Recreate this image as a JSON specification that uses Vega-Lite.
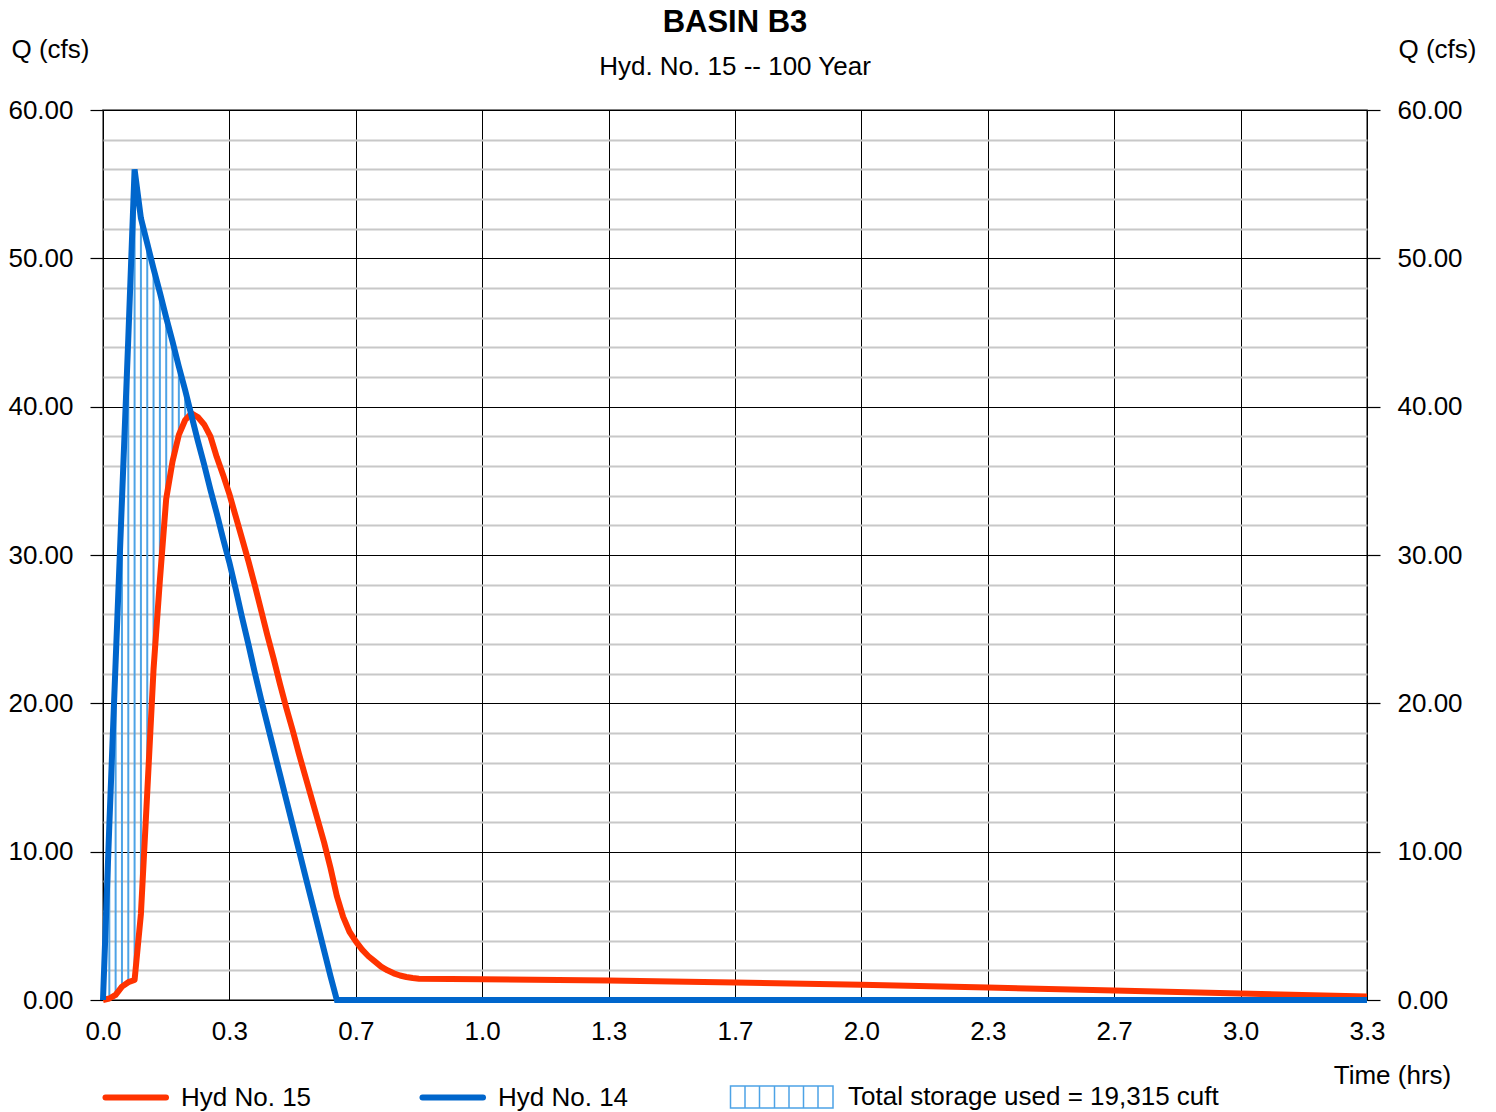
{
  "$schema": "https://vega.github.io/schema/vega-lite/v6.json",
  "width": 1264,
  "height": 890,
  "autosize": {"type": "none"},
  "padding": {"left": 103, "top": 110, "right": 129, "bottom": 112},
  "background": "white",
  "config": {
    "font": "Liberation Sans",
    "view": {"stroke": "#555555", "strokeWidth": 1.5}
  },
  "title": {
    "text": "BASIN B3",
    "subtitle": "Hyd. No. 15 -- 100 Year",
    "anchor": "middle",
    "frame": "group",
    "font": "Liberation Sans",
    "fontSize": 31,
    "fontWeight": "bold",
    "color": "#000000",
    "subtitleFont": "Liberation Sans",
    "subtitleFontSize": 26,
    "subtitleColor": "#000000",
    "offset": -45,
    "subtitlePadding": 15
  },
  "data": {
    "values": [
      {"t": 0, "h15": 0, "h14": 0},
      {"t": 0.0167, "h15": 0.1, "h14": 11.8},
      {"t": 0.0333, "h15": 0.35, "h14": 22.8},
      {"t": 0.05, "h15": 0.9, "h14": 33.7},
      {"t": 0.0667, "h15": 1.2, "h14": 44.6},
      {"t": 0.0833, "h15": 1.35, "h14": 56.0},
      {"t": 0.1, "h15": 5.8, "h14": 52.7},
      {"t": 0.1167, "h15": 14.0, "h14": 51.0},
      {"t": 0.1333, "h15": 22.3, "h14": 49.3},
      {"t": 0.15, "h15": 28.3, "h14": 47.7},
      {"t": 0.1667, "h15": 33.8, "h14": 46.0},
      {"t": 0.1833, "h15": 36.3, "h14": 44.4},
      {"t": 0.2, "h15": 38.1, "h14": 42.7},
      {"t": 0.2167, "h15": 39.1, "h14": 41.1},
      {"t": 0.2333, "h15": 39.55, "h14": 39.4},
      {"t": 0.25, "h15": 39.3, "h14": 37.7},
      {"t": 0.2667, "h15": 38.8, "h14": 36.1},
      {"t": 0.2833, "h15": 38.0, "h14": 34.4},
      {"t": 0.3, "h15": 36.6, "h14": 32.8},
      {"t": 0.3167, "h15": 35.4, "h14": 31.1},
      {"t": 0.3333, "h15": 34.1, "h14": 29.5},
      {"t": 0.35, "h15": 32.6, "h14": 27.7},
      {"t": 0.3667, "h15": 31.1, "h14": 25.8},
      {"t": 0.3833, "h15": 29.6, "h14": 24.0},
      {"t": 0.4, "h15": 28.0, "h14": 22.1},
      {"t": 0.4167, "h15": 26.3, "h14": 20.3},
      {"t": 0.4333, "h15": 24.6, "h14": 18.6},
      {"t": 0.45, "h15": 23.0, "h14": 16.9},
      {"t": 0.4667, "h15": 21.3, "h14": 15.2},
      {"t": 0.4833, "h15": 19.7, "h14": 13.5},
      {"t": 0.5, "h15": 18.2, "h14": 11.8},
      {"t": 0.5167, "h15": 16.6, "h14": 10.1},
      {"t": 0.5333, "h15": 15.1, "h14": 8.4},
      {"t": 0.55, "h15": 13.6, "h14": 6.7},
      {"t": 0.5667, "h15": 12.1, "h14": 5.0},
      {"t": 0.5833, "h15": 10.6, "h14": 3.3},
      {"t": 0.6, "h15": 8.9, "h14": 1.6},
      {"t": 0.6167, "h15": 7.0, "h14": 0},
      {"t": 0.6333, "h15": 5.6, "h14": 0},
      {"t": 0.65, "h15": 4.6, "h14": 0},
      {"t": 0.6667, "h15": 3.95, "h14": 0},
      {"t": 0.6833, "h15": 3.4, "h14": 0},
      {"t": 0.7, "h15": 2.95, "h14": 0},
      {"t": 0.7167, "h15": 2.6, "h14": 0},
      {"t": 0.7333, "h15": 2.25, "h14": 0},
      {"t": 0.75, "h15": 2.0, "h14": 0},
      {"t": 0.7667, "h15": 1.8, "h14": 0},
      {"t": 0.7833, "h15": 1.65, "h14": 0},
      {"t": 0.8, "h15": 1.55, "h14": 0},
      {"t": 0.8167, "h15": 1.48, "h14": 0},
      {"t": 0.8333, "h15": 1.44, "h14": 0},
      {"t": 1.0, "h15": 1.40, "h14": 0},
      {"t": 1.3333, "h15": 1.32, "h14": 0},
      {"t": 1.6667, "h15": 1.18, "h14": 0},
      {"t": 2.0, "h15": 1.02, "h14": 0},
      {"t": 2.3333, "h15": 0.84, "h14": 0},
      {"t": 2.6667, "h15": 0.64, "h14": 0},
      {"t": 3.0, "h15": 0.44, "h14": 0},
      {"t": 3.3333, "h15": 0.24, "h14": 0}
    ]
  },
  "layer": [
    {
      "transform": [{"filter": "datum.h14 > datum.h15"}],
      "mark": {"type": "rule", "strokeWidth": 2},
      "encoding": {
        "x": {
          "field": "t", "type": "quantitative", "title": "Time (hrs)",
          "scale": {"domain": [0, 3.33333], "nice": false, "zero": false},
          "axis": {
            "values": [0, 0.33333, 0.66667, 1, 1.33333, 1.66667, 2, 2.33333, 2.66667, 3, 3.33333],
            "format": ".1f",
            "grid": true, "gridColor": "#000000", "gridWidth": 1,
            "ticks": false, "domain": false,
            "labelFlush": false, "labelOverlap": false,
            "labelFont": "Liberation Sans", "labelFontSize": 26, "labelColor": "#000000",
            "labelPadding": 18,
            "titleFont": "Liberation Sans", "titleFontSize": 26, "titleFontWeight": "normal", "titleColor": "#000000",
            "titleAlign": "center", "titleBaseline": "alphabetic",
            "titleX": 1289, "titleY": 83
          }
        },
        "y": {
          "field": "h15", "type": "quantitative", "title": "Q (cfs)",
          "scale": {"domain": [0, 60], "nice": false},
          "axis": {
            "orient": "left",
            "values": [0, 2, 4, 6, 8, 10, 12, 14, 16, 18, 20, 22, 24, 26, 28, 30, 32, 34, 36, 38, 40, 42, 44, 46, 48, 50, 52, 54, 56, 58, 60],
            "labelExpr": "datum.value % 10 === 0 ? format(datum.value, '.2f') : ''",
            "labelOverlap": false,
            "grid": true,
            "gridColor": {"condition": {"test": "datum.value % 10 === 0", "value": "#000000"}, "value": "#c8c8c8"},
            "gridWidth": {"condition": {"test": "datum.value % 10 === 0", "value": 1.2}, "value": 2},
            "ticks": true, "tickSize": 13, "tickWidth": 1.2,
            "tickColor": {"condition": {"test": "datum.value % 10 === 0", "value": "#000000"}, "value": "transparent"},
            "domain": false,
            "labelFont": "Liberation Sans", "labelFontSize": 26, "labelColor": "#000000",
            "labelPadding": 17,
            "titleFont": "Liberation Sans", "titleFontSize": 26, "titleFontWeight": "normal", "titleColor": "#000000",
            "titleAngle": 0, "titleAlign": "center", "titleBaseline": "alphabetic",
            "titleX": -53, "titleY": -53
          }
        },
        "y2": {"field": "h14"},
        "color": {
          "datum": "Total storage used = 19,315 cuft",
          "type": "nominal",
          "scale": {
            "domain": ["Hyd No. 15", "Hyd No. 14", "Total storage used = 19,315 cuft"],
            "range": ["#ff3300", "#0066cc", "#4da3e6"]
          },
          "legend": {
            "orient": "none",
            "legendX": 0,
            "legendY": 974,
            "direction": "horizontal",
            "title": null,
            "padding": 0,
            "symbolType": "stroke",
            "symbolSize": 10000,
            "symbolStrokeWidth": 1.5,
            "labelFont": "Liberation Sans",
            "labelFontSize": 26,
            "labelColor": "#000000",
            "labelLimit": 600,
            "labelOffset": 16,
            "columnPadding": 98,
            "encode": {
              "symbols": {
                "update": {
                  "shape": {"signal": "datum.value === 'Total storage used = 19,315 cuft' ? 'M-0.25,-0.22H1.8V0.22H-0.25Z M0.04,-0.22V0.22 M0.33,-0.22V0.22 M0.63,-0.22V0.22 M0.92,-0.22V0.22 M1.21,-0.22V0.22 M1.5,-0.22V0.22' : 'M-0.21,0H1.0'"},
                  "strokeWidth": {"signal": "datum.value === 'Total storage used = 19,315 cuft' ? 1.5 : 6"},
                  "strokeCap": {"value": "round"},
                  "fill": {"value": "transparent"}
                }
              },
              "labels": {
                "update": {
                  "dx": {"signal": "datum.value === 'Total storage used = 19,315 cuft' ? 76 : 36"}
                }
              }
            }
          }
        }
      }
    },
    {
      "mark": {"type": "line", "strokeWidth": 6, "strokeJoin": "round"},
      "encoding": {
        "x": {"field": "t", "type": "quantitative", "title": "Time (hrs)", "scale": {"domain": [0, 3.33333], "nice": false, "zero": false}},
        "y": {
          "field": "h15", "type": "quantitative", "title": "Q (cfs)",
          "scale": {"domain": [0, 60], "nice": false},
          "axis": {
            "orient": "right",
            "values": [0, 10, 20, 30, 40, 50, 60],
            "format": ".2f",
            "grid": false,
            "ticks": true, "tickSize": 13, "tickWidth": 1.2, "tickColor": "#000000",
            "domain": false,
            "labelFont": "Liberation Sans", "labelFontSize": 26, "labelColor": "#000000",
            "labelPadding": 17,
            "titleFont": "Liberation Sans", "titleFontSize": 26, "titleFontWeight": "normal", "titleColor": "#000000",
            "titleAngle": 0, "titleAlign": "center", "titleBaseline": "alphabetic",
            "titleX": 70, "titleY": -53
          }
        },
        "color": {"datum": "Hyd No. 15", "type": "nominal"}
      }
    },
    {
      "mark": {"type": "line", "strokeWidth": 6},
      "encoding": {
        "x": {"field": "t", "type": "quantitative", "title": "Time (hrs)", "scale": {"domain": [0, 3.33333], "nice": false, "zero": false}},
        "y": {"field": "h14", "type": "quantitative", "title": "Q (cfs)", "scale": {"domain": [0, 60], "nice": false}, "axis": null},
        "color": {"datum": "Hyd No. 14", "type": "nominal"}
      }
    }
  ],
  "resolve": {"axis": {"y": "independent"}}
}
